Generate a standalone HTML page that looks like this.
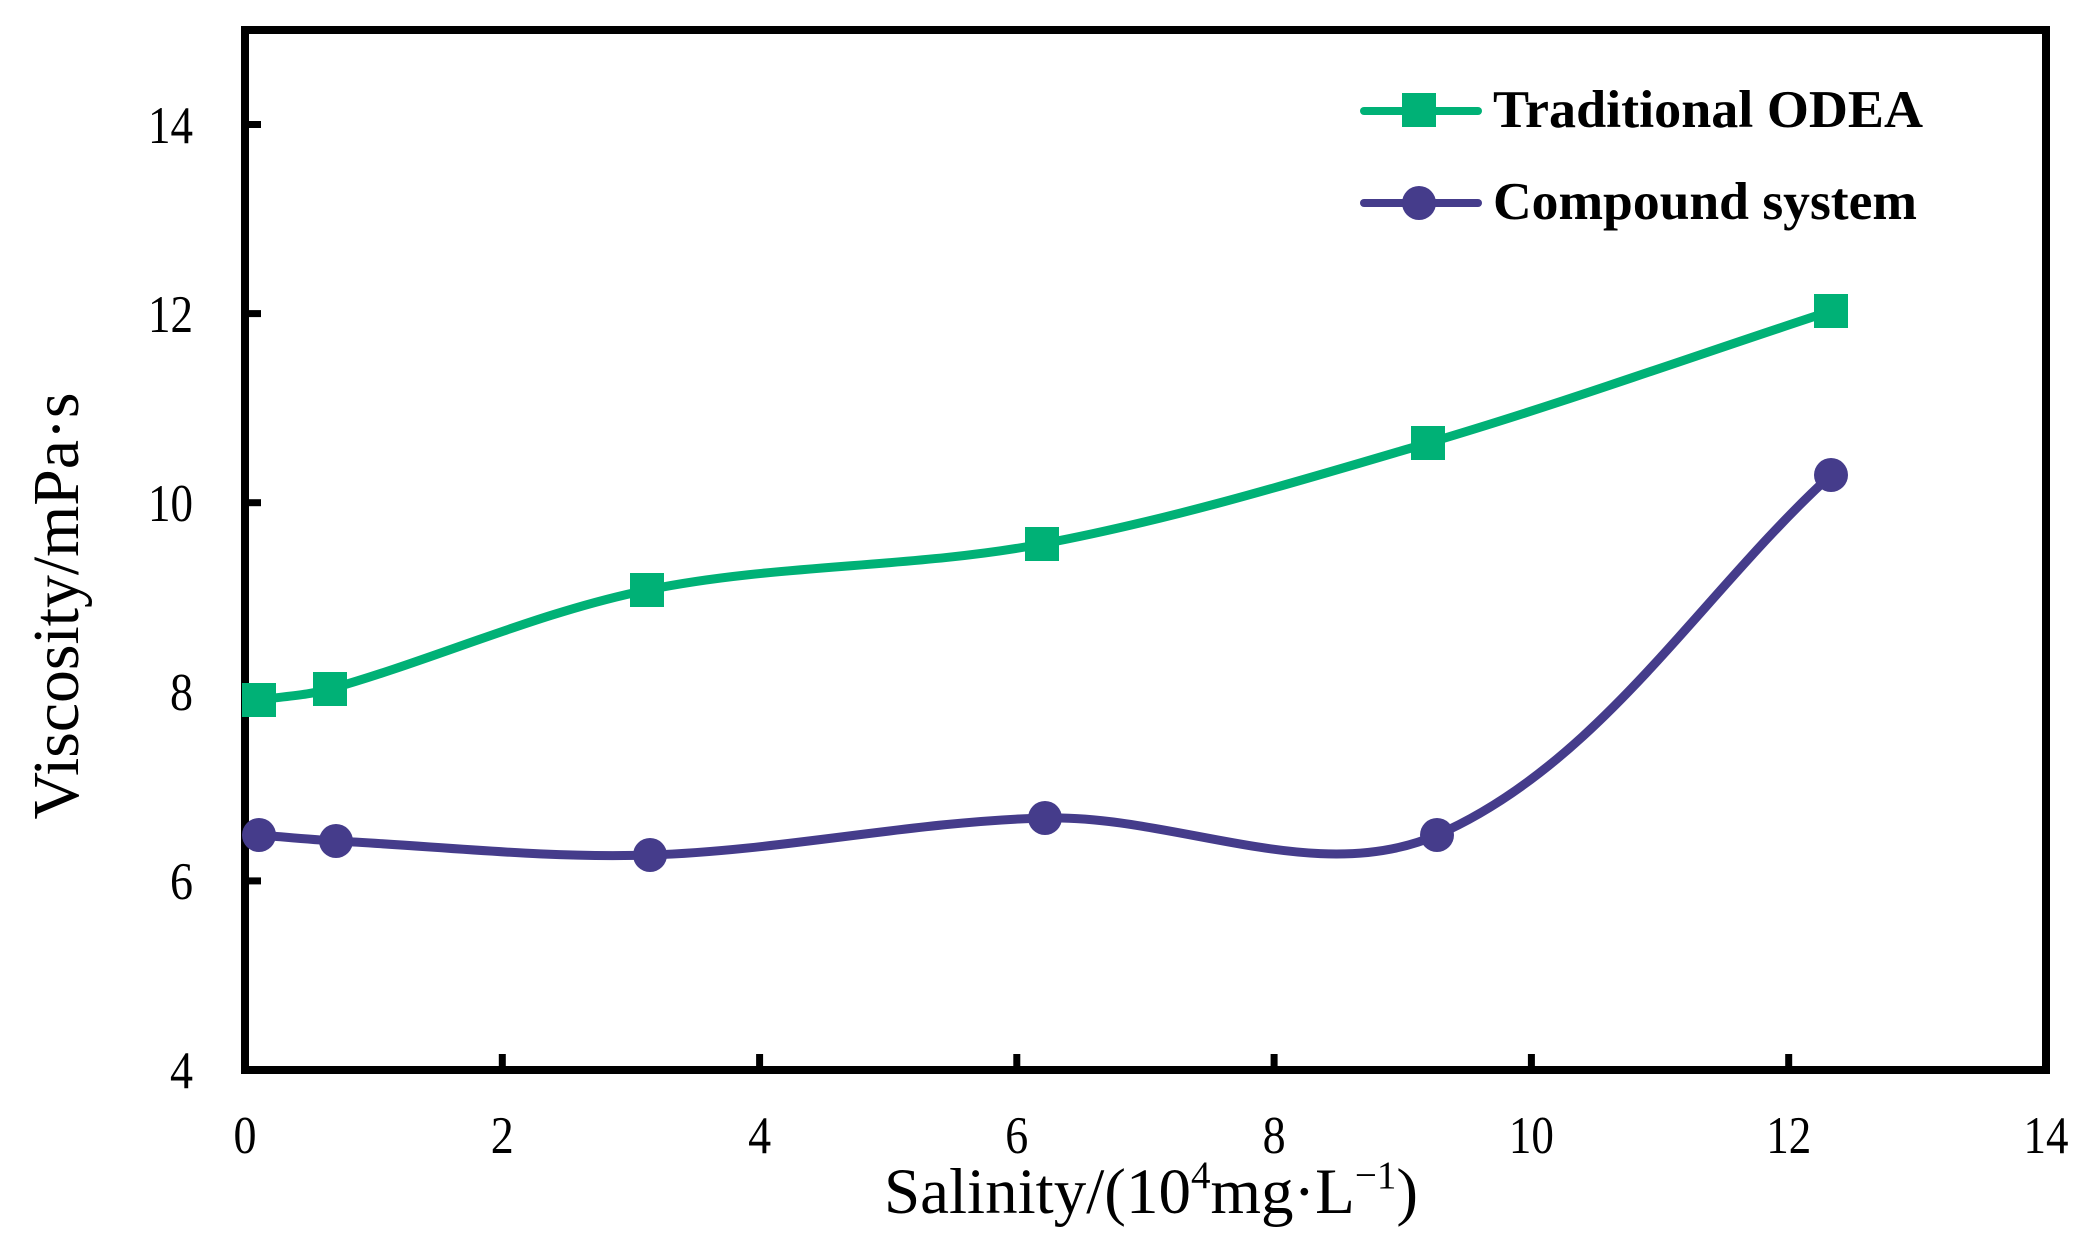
<!DOCTYPE html>
<html>
<head>
<meta charset="utf-8">
<style>
  html, body { margin: 0; padding: 0; background: #ffffff; }
  svg { display: block; }
  text { font-family: "Liberation Serif", "Times New Roman", serif; fill: #000; }
</style>
</head>
<body>
<svg width="2096" height="1260" viewBox="0 0 2096 1260" xmlns="http://www.w3.org/2000/svg">
  <rect x="0" y="0" width="2096" height="1260" fill="#ffffff"/>

  <!-- ticks (inward) -->
  <g stroke="#000" stroke-width="7">
    <line x1="502.3" y1="1066" x2="502.3" y2="1054"/>
    <line x1="759.6" y1="1066" x2="759.6" y2="1054"/>
    <line x1="1016.8" y1="1066" x2="1016.8" y2="1054"/>
    <line x1="1274.1" y1="1066" x2="1274.1" y2="1054"/>
    <line x1="1531.4" y1="1066" x2="1531.4" y2="1054"/>
    <line x1="1788.7" y1="1066" x2="1788.7" y2="1054"/>
    <line x1="249" y1="880.9" x2="261" y2="880.9"/>
    <line x1="249" y1="691.8" x2="261" y2="691.8"/>
    <line x1="249" y1="502.7" x2="261" y2="502.7"/>
    <line x1="249" y1="313.6" x2="261" y2="313.6"/>
    <line x1="249" y1="124.5" x2="261" y2="124.5"/>
  </g>

  <!-- frame -->
  <rect x="245" y="30" width="1801" height="1040" fill="none" stroke="#000" stroke-width="8"/>

  <!-- Y tick labels -->
  <g font-size="53" text-anchor="end">
    <text x="193" y="1088" textLength="23" lengthAdjust="spacingAndGlyphs">4</text>
    <text x="193" y="899" textLength="23" lengthAdjust="spacingAndGlyphs">6</text>
    <text x="193" y="710" textLength="23" lengthAdjust="spacingAndGlyphs">8</text>
    <text x="193" y="521" textLength="45" lengthAdjust="spacingAndGlyphs">10</text>
    <text x="193" y="332" textLength="45" lengthAdjust="spacingAndGlyphs">12</text>
    <text x="193" y="143" textLength="45" lengthAdjust="spacingAndGlyphs">14</text>
  </g>

  <!-- X tick labels -->
  <g font-size="53" text-anchor="middle">
    <text x="245" y="1153" textLength="23" lengthAdjust="spacingAndGlyphs">0</text>
    <text x="502.3" y="1153" textLength="23" lengthAdjust="spacingAndGlyphs">2</text>
    <text x="759.6" y="1153" textLength="23" lengthAdjust="spacingAndGlyphs">4</text>
    <text x="1016.8" y="1153" textLength="23" lengthAdjust="spacingAndGlyphs">6</text>
    <text x="1274.1" y="1153" textLength="23" lengthAdjust="spacingAndGlyphs">8</text>
    <text x="1531.4" y="1153" textLength="45" lengthAdjust="spacingAndGlyphs">10</text>
    <text x="1788.7" y="1153" textLength="45" lengthAdjust="spacingAndGlyphs">12</text>
    <text x="2046" y="1153" textLength="45" lengthAdjust="spacingAndGlyphs">14</text>
  </g>

  <!-- Axis titles -->
  <text x="884" y="1213" font-size="65">Salinity/(10<tspan font-size="39" dy="-25">4</tspan><tspan dy="25">mg·L</tspan><tspan font-size="39" dy="-25">−1</tspan><tspan dy="25">)</tspan></text>
  <text transform="translate(78,606) rotate(-90)" x="0" y="0" font-size="66" text-anchor="middle" textLength="427" lengthAdjust="spacingAndGlyphs">Viscosity/mPa·s</text>

  <!-- Traditional ODEA (green) -->
  <path d="M259,700 C282.7,696.3 307.0,695.5 330,689 C436.5,658.8 538.5,612.1 647,590 C776.9,563.5 911.7,568.5 1042,544 C1172.7,519.4 1300.5,480.7 1428,443 C1563.6,403.0 1696.6,355.0 1831,311"
        fill="none" stroke="#00b176" stroke-width="9" stroke-linecap="round" stroke-linejoin="round"/>
  <g fill="#00b176">
    <rect x="242" y="683" width="34" height="34"/>
    <rect x="313" y="672" width="34" height="34"/>
    <rect x="630" y="573" width="34" height="34"/>
    <rect x="1025" y="527" width="34" height="34"/>
    <rect x="1411" y="426" width="34" height="34"/>
    <rect x="1814" y="294" width="34" height="34"/>
  </g>

  <!-- Compound system (purple) -->
  <path d="M259,835 C284.7,837.0 310.3,839.7 336,841 C440.7,846.4 545.3,858.4 650,855 C782.1,850.7 912.8,821.4 1045,818 C1175.8,814.7 1317.1,887.3 1437,835 C1600.0,763.8 1699.7,595.0 1831,475"
        fill="none" stroke="#453c8b" stroke-width="9" stroke-linecap="round" stroke-linejoin="round"/>
  <g fill="#453c8b">
    <circle cx="259" cy="835" r="17"/>
    <circle cx="336" cy="841" r="17"/>
    <circle cx="650" cy="855" r="17"/>
    <circle cx="1045" cy="818" r="17"/>
    <circle cx="1437" cy="835" r="17"/>
    <circle cx="1831" cy="475" r="17"/>
  </g>

  <!-- Legend -->
  <line x1="1364" y1="111" x2="1478" y2="111" stroke="#00b176" stroke-width="8" stroke-linecap="round"/>
  <rect x="1402" y="93" width="34" height="34" fill="#00b176"/>
  <text x="1493" y="127" font-size="53" font-weight="bold" textLength="430" lengthAdjust="spacingAndGlyphs">Traditional ODEA</text>

  <line x1="1364" y1="203" x2="1478" y2="203" stroke="#453c8b" stroke-width="8" stroke-linecap="round"/>
  <circle cx="1419" cy="203" r="17" fill="#453c8b"/>
  <text x="1493" y="219" font-size="53" font-weight="bold" textLength="424" lengthAdjust="spacingAndGlyphs">Compound system</text>
</svg>
</body>
</html>
